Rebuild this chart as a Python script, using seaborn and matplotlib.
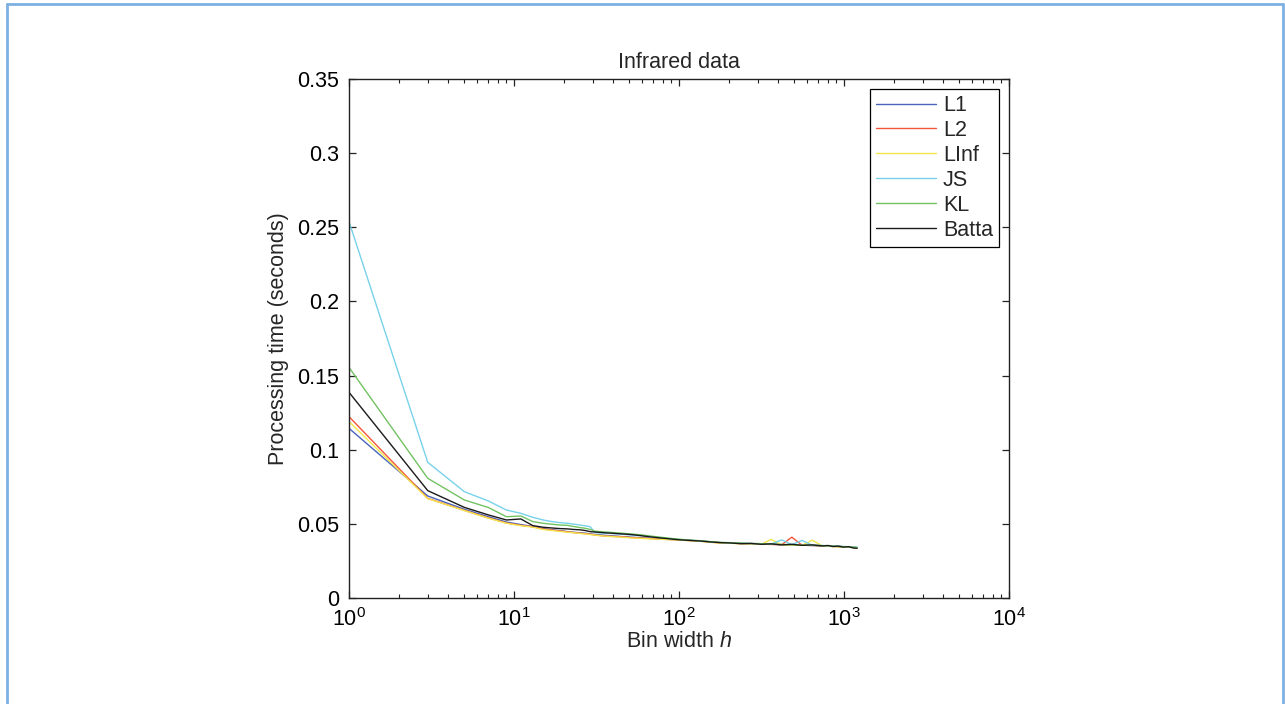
import pandas as pd
import matplotlib.pyplot as plt
import seaborn as sns
from matplotlib.lines import Line2D
from matplotlib.ticker import FuncFormatter, LogLocator

# bin widths (shared x grid)
bins = [1, 3, 5, 7, 9, 11, 13, 15, 17, 19, 21, 23, 25, 27, 29, 31,
        35, 39, 45, 51, 59, 67, 77, 89, 101, 117, 135, 155, 179, 205, 237, 273,
        315, 363, 419, 483, 557, 643, 741, 801, 855, 921, 991, 1065, 1141, 1201]

l1 = [0.1144, 0.0688, 0.0598, 0.0548, 0.0512, 0.0495, 0.0482, 0.0468,
      0.0460, 0.0454, 0.0448, 0.0443, 0.0440, 0.0437, 0.0432, 0.0428,
      0.0423, 0.0419, 0.0414, 0.0410, 0.0406, 0.0402, 0.0399, 0.0395,
      0.0392, 0.0388, 0.0384, 0.0379, 0.0373, 0.0371, 0.0368, 0.0366,
      0.0365, 0.0362, 0.0360, 0.0357, 0.0356, 0.0354, 0.0352, 0.0351,
      0.0349, 0.0347, 0.0346, 0.0344, 0.0342, 0.0340]
l2 = [0.1223, 0.0672, 0.0591, 0.0540, 0.0506, 0.0490, 0.0480, 0.0465,
      0.0458, 0.0452, 0.0446, 0.0441, 0.0437, 0.0434, 0.0430, 0.0425,
      0.0418, 0.0416, 0.0413, 0.0408, 0.0404, 0.0401, 0.0397, 0.0394,
      0.0391, 0.0387, 0.0383, 0.0377, 0.0371, 0.0370, 0.0367, 0.0365,
      0.0364, 0.0361, 0.0359, 0.0410, 0.0356, 0.0354, 0.0351, 0.0350,
      0.0348, 0.0346, 0.0345, 0.0343, 0.0341, 0.0339]
linf = [0.1190, 0.0670, 0.0590, 0.0538, 0.0504, 0.0488, 0.0478, 0.0462,
        0.0455, 0.0449, 0.0444, 0.0440, 0.0436, 0.0432, 0.0428, 0.0424,
        0.0418, 0.0414, 0.0410, 0.0405, 0.0402, 0.0399, 0.0396, 0.0393,
        0.0390, 0.0386, 0.0382, 0.0376, 0.0370, 0.0369, 0.0366, 0.0364,
        0.0362, 0.0395, 0.0358, 0.0356, 0.0355, 0.0390, 0.0350, 0.0349,
        0.0347, 0.0345, 0.0344, 0.0342, 0.0340, 0.0338]
js = [0.2538, 0.0915, 0.0717, 0.0654, 0.0593, 0.0571, 0.0544, 0.0526,
      0.0515, 0.0508, 0.0504, 0.0498, 0.0492, 0.0487, 0.0480, 0.0440,
      0.0438, 0.0434, 0.0430, 0.0425, 0.0420, 0.0414, 0.0407, 0.0400,
      0.0394, 0.0389, 0.0385, 0.0379, 0.0374, 0.0372, 0.0369, 0.0367,
      0.0366, 0.0364, 0.0392, 0.0360, 0.0388, 0.0356, 0.0354, 0.0352,
      0.0351, 0.0349, 0.0347, 0.0345, 0.0343, 0.0341]
kl = [0.1555, 0.0807, 0.0661, 0.0610, 0.0548, 0.0553, 0.0515, 0.0504,
      0.0497, 0.0492, 0.0490, 0.0482, 0.0475, 0.0470, 0.0462, 0.0450,
      0.0446, 0.0442, 0.0437, 0.0432, 0.0426, 0.0418, 0.0410, 0.0402,
      0.0396, 0.0390, 0.0386, 0.0380, 0.0375, 0.0373, 0.0370, 0.0368,
      0.0366, 0.0363, 0.0361, 0.0359, 0.0357, 0.0355, 0.0353, 0.0352,
      0.0350, 0.0348, 0.0347, 0.0345, 0.0343, 0.0341]
batta = [0.1387, 0.0724, 0.0611, 0.0560, 0.0526, 0.0533, 0.0488, 0.0477,
         0.0472, 0.0468, 0.0466, 0.0462, 0.0460, 0.0455, 0.0447, 0.0445,
         0.0440, 0.0437, 0.0432, 0.0428, 0.0420, 0.0412, 0.0405, 0.0398,
         0.0392, 0.0388, 0.0384, 0.0378, 0.0373, 0.0371, 0.0366, 0.0368,
         0.0362, 0.0365, 0.0358, 0.0362, 0.0355, 0.0358, 0.0351, 0.0354,
         0.0347, 0.0350, 0.0343, 0.0346, 0.0337, 0.0335]

names = ['L1', 'L2', 'LInf', 'JS', 'KL', 'Batta']
series = [l1, l2, linf, js, kl, batta]
colors = ['#4a64bb', '#f4553c', '#f3e64a', '#78d2ea', '#72c262', '#1a1a1a']

df = pd.concat([pd.DataFrame({'bin': bins, 'time': s, 'method': n})
                for n, s in zip(names, series)], ignore_index=True)

sns.set_style('ticks')
plt.rcParams['font.family'] = ['Liberation Sans', 'DejaVu Sans']
plt.rcParams['mathtext.fontset'] = 'custom'
plt.rcParams['mathtext.rm'] = 'Liberation Sans'
plt.rcParams['mathtext.it'] = 'Liberation Sans:italic'

fs = 15.5

fig = plt.figure(figsize=(12.85, 7.04), dpi=100)
ax = fig.add_axes([0.2716, 0.1506, 0.5136, 0.7372])

sns.lineplot(data=df, x='bin', y='time', hue='method', hue_order=names,
             palette=colors, linewidth=1.0, ax=ax, estimator=None, sort=True)

ax.set_xscale('log')
ax.set_xlim(1, 1e4)
ax.set_ylim(0, 0.35)
ax.set_yticks([0, 0.05, 0.1, 0.15, 0.2, 0.25, 0.3, 0.35])
ax.yaxis.set_major_formatter(FuncFormatter(lambda v, p: '%g' % v))
ax.xaxis.set_major_locator(LogLocator(base=10, numticks=10))
ax.xaxis.set_minor_locator(LogLocator(base=10, subs=range(2, 10), numticks=10))

for s in ax.spines.values():
    s.set_visible(True)
    s.set_linewidth(1.0)
    s.set_color('#222222')
ax.tick_params(which='both', direction='in', top=True, right=True,
               labelsize=fs, colors='#222222', labelcolor='black')
ax.tick_params(which='major', length=5, width=0.9, pad=7)
ax.tick_params(axis='x', which='major', pad=7)
ax.tick_params(which='minor', length=3, width=0.8)

ax.set_title('Infrared data', fontsize=fs, pad=8)
ax.set_xlabel('Bin width $h$', fontsize=fs, labelpad=0)
ax.set_ylabel('Processing time (seconds)', fontsize=fs, labelpad=6)
ax.grid(False)

handles, labels = ax.get_legend_handles_labels()
leg = ax.legend(handles, labels, loc='upper right', fontsize=fs,
                frameon=True, fancybox=False, framealpha=1,
                edgecolor='black', handlelength=2.8, handletextpad=0.3,
                labelspacing=0.18, borderpad=0.3, borderaxespad=0.45)
leg.get_frame().set_linewidth(0.9)
for h in leg.get_lines():
    h.set_linewidth(1.0)

# light blue frame around the figure (left, top, right)
frame_c = '#7eb0e2'
fig.add_artist(Line2D([0.0055, 0.0055], [0, 0.995], color=frame_c, lw=2, transform=fig.transFigure))
fig.add_artist(Line2D([0.0055, 0.9985], [0.995, 0.995], color=frame_c, lw=2, transform=fig.transFigure))
fig.add_artist(Line2D([0.9985, 0.9985], [0, 0.995], color=frame_c, lw=2, transform=fig.transFigure))

fig.savefig('out.png', dpi=100)
